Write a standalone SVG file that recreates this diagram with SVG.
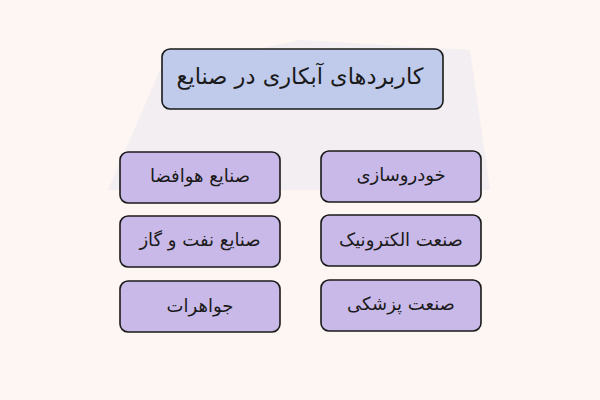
<svg xmlns="http://www.w3.org/2000/svg" width="600" height="400" viewBox="0 0 600 400">
<style>
.bg{fill:#fdf6f2}
.title rect{fill:#c0cbeb;stroke:#1a1a1a;stroke-width:1.6}
.item rect{fill:#c9b9e8;stroke:#1a1a1a;stroke-width:1.6}
text{font-family:"DejaVu Sans","Noto Sans",sans-serif;fill:#1a1a1a;text-anchor:middle;dominant-baseline:central;direction:rtl}
.title text{font-size:22.5px}
.item text{font-size:18px}
.wm{fill:#f3eef2}
</style>
<rect class="bg" x="0" y="0" width="600" height="400"/>
<g id="watermark">
<path class="wm" d="M108 190 L160 70 L300 40 L470 50 L490 190 Z"/>
</g>
<g id="title" class="title">
<rect x="162" y="49" width="281" height="60" rx="8"/>
<text x="300" y="76">کاربردهای آبکاری در صنایع</text>
</g>
<g id="n1" class="item">
<rect x="321" y="151" width="160" height="51" rx="8"/>
<text x="401" y="174">خودروسازی</text>
</g>
<g id="n2" class="item">
<rect x="120" y="152" width="160" height="51" rx="8"/>
<text x="200" y="175">صنایع هوافضا</text>
</g>
<g id="n3" class="item">
<rect x="321" y="215" width="160" height="51" rx="8"/>
<text x="401" y="239">صنعت الکترونیک</text>
</g>
<g id="n4" class="item">
<rect x="120" y="216" width="160" height="51" rx="8"/>
<text x="200" y="239">صنایع نفت و گاز</text>
</g>
<g id="n5" class="item">
<rect x="321" y="280" width="160" height="51" rx="8"/>
<text x="401" y="303">صنعت پزشکی</text>
</g>
<g id="n6" class="item">
<rect x="120" y="281" width="160" height="51" rx="8"/>
<text x="200" y="305">جواهرات</text>
</g>
<g id="connectors"></g>
</svg>
